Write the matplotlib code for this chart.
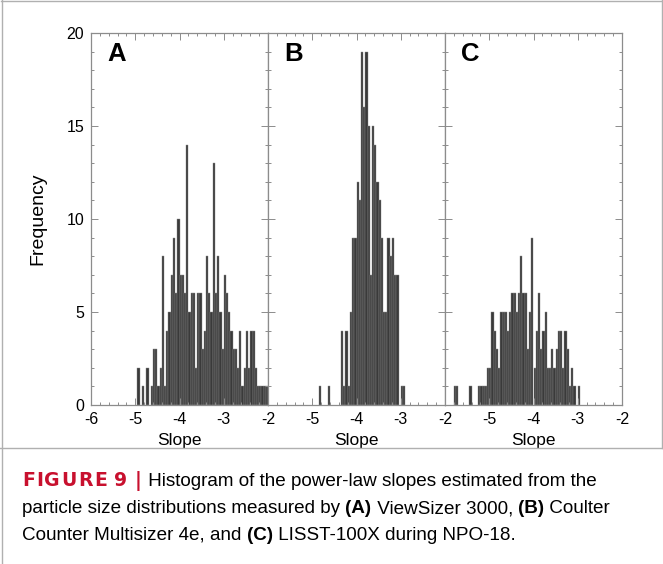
import numpy as np
import matplotlib
matplotlib.use("Agg")
import matplotlib.pyplot as plt
from matplotlib.lines import Line2D
from matplotlib.ticker import MultipleLocator

plt.rcParams['font.family'] = ['Liberation Sans', 'DejaVu Sans']

# ---------------- data ----------------
bin_width = 0.05
panel_labels = ["A", "B", "C"]

a_start = -4.95
a_counts = [2, 0, 1, 0, 2, 0, 1, 3, 3, 1,
            2, 8, 1, 4, 5, 7, 9, 6, 10, 7,
            7, 6, 14, 5, 6, 6, 2, 6, 6, 3,
            4, 8, 6, 5, 13, 6, 8, 5, 3, 7,
            6, 5, 4, 3, 3, 2, 4, 1, 2, 4,
            2, 4, 4, 2, 1, 1, 1, 1, 1]

b_start = -4.85
b_counts = [1, 0, 0, 0, 1, 0, 0, 0, 0, 0,
            4, 1, 4, 1, 5, 9, 9, 12, 11, 19,
            16, 19, 15, 7, 15, 14, 12, 11, 9, 5,
            5, 9, 8, 9, 7, 7, 0, 1, 1]

c_start = -5.80
c_counts = [1, 1, 0, 0, 0, 0, 0, 1, 0, 0,
            0, 1, 1, 1, 1, 2, 2, 5, 4, 3,
            2, 5, 5, 5, 4, 5, 6, 6, 5, 6,
            8, 6, 6, 3, 5, 9, 2, 4, 6, 3,
            4, 5, 2, 2, 3, 2, 3, 4, 4, 2,
            4, 3, 1, 2, 1, 0, 1]

x_ticks = [-6, -5, -4, -3, -2]
y_ticks = [0, 5, 10, 15, 20]

# ---------------- figure ----------------
W, H = 663, 564
fig = plt.figure(figsize=(W / 100, H / 100), dpi=100)

def fx(px):
    return px / W

def fy(py):
    return 1 - py / H

ax_left_px = [91, 268, 445]
ax_w_px = 177
ax_top_px, ax_bot_px = 33, 405

frame_col = '#8c8c8c'
bar_face = '#3a3a3a'
bar_edge = '#8a8a8a'

series = [(a_start, a_counts), (b_start, b_counts), (c_start, c_counts)]

for i, (start, counts) in enumerate(series):
    ax = fig.add_axes([fx(ax_left_px[i]), fy(ax_bot_px),
                       fx(ax_w_px), (ax_bot_px - ax_top_px) / H])
    counts = np.asarray(counts)
    lefts = start + bin_width * np.arange(len(counts))
    nz = counts > 0
    ax.bar(lefts[nz], counts[nz], width=bin_width, align='edge',
           color=bar_face, edgecolor=bar_edge, linewidth=0.3)
    ax.set_xlim(-6, -2)
    ax.set_ylim(0, 20)
    ax.set_xticks(x_ticks)
    if i == 0:
        ax.set_xticklabels([str(t) for t in x_ticks])
        ax.set_yticks(y_ticks)
        ax.set_yticklabels([str(t) for t in y_ticks])
        ax.set_ylabel("Frequency", fontsize=14, labelpad=14)
    else:
        ax.set_xticklabels([""] + [str(t) for t in x_ticks[1:]])
        ax.set_yticks(y_ticks)
        ax.set_yticklabels([])
    ax.xaxis.set_minor_locator(MultipleLocator(0.2))
    ax.yaxis.set_minor_locator(MultipleLocator(1))
    ax.tick_params(which='both', direction='in', top=True, right=True,
                   color=frame_col, labelsize=11.5, width=0.7)
    ax.tick_params(which='major', length=5, pad=5)
    ax.tick_params(which='minor', length=2.5)
    for s in ax.spines.values():
        s.set_color(frame_col)
        s.set_linewidth(0.9)
    ax.set_xlabel("Slope", fontsize=12.5, labelpad=4)
    ax.text(0.09, 0.975, panel_labels[i], transform=ax.transAxes,
            fontsize=18.5, fontweight='bold', va='top', ha='left')

# ---------------- frame lines ----------------
line_col = '#b0b0b0'
fig.add_artist(Line2D([fx(1), fx(662)], [fy(1), fy(1)], color=line_col, lw=1))
fig.add_artist(Line2D([fx(1.5), fx(1.5)], [fy(0), fy(564)], color=line_col, lw=1))
fig.add_artist(Line2D([fx(661.5), fx(661.5)], [fy(0), fy(448)], color=line_col, lw=1))
fig.add_artist(Line2D([fx(0), fx(663)], [fy(448), fy(448)], color=line_col, lw=1))

# ---------------- caption ----------------
renderer = fig.canvas.get_renderer()
cap_size = 13.6
red = '#c8102e'

def rich_line(x_px, y_px, pieces):
    x = fx(x_px)
    for txt, weight, col, fam, spacing in pieces:
        chunks = list(txt) if spacing else [txt]
        for ch in chunks:
            t = fig.text(x, fy(y_px), ch, fontsize=cap_size, fontweight=weight,
                         color=col, va='baseline', ha='left', family=fam)
            bb = t.get_window_extent(renderer)
            w = bb.width if ch != ' ' else cap_size * 0.35
            x += (w + spacing) / fig.bbox.width

LS = ['Liberation Sans', 'DejaVu Sans']
DJ = ['DejaVu Sans']
rich_line(22, 486, [("FIGURE 9 |", 'bold', red, DJ, 1.3),
                    (" Histogram of the power-law slopes estimated from the", 'normal', 'black', LS, 0)])
rich_line(22, 513, [("particle size distributions measured by ", 'normal', 'black', LS, 0),
                    ("(A)", 'bold', 'black', LS, 0),
                    (" ViewSizer 3000, ", 'normal', 'black', LS, 0),
                    ("(B)", 'bold', 'black', LS, 0),
                    (" Coulter", 'normal', 'black', LS, 0)])
rich_line(22, 540, [("Counter Multisizer 4e, and ", 'normal', 'black', LS, 0),
                    ("(C)", 'bold', 'black', LS, 0),
                    (" LISST-100X during NPO-18.", 'normal', 'black', LS, 0)])

fig.savefig("out.png", dpi=100)
